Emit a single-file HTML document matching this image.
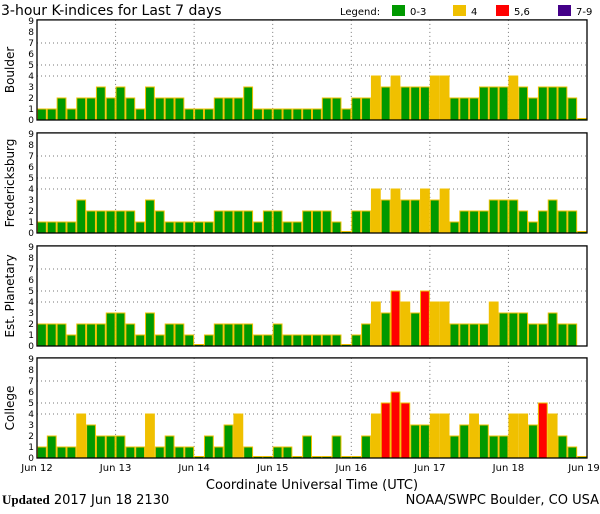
<!DOCTYPE html>
<html><head><meta charset="utf-8"><style>
body{margin:0;background:#fff;width:600px;height:510px;overflow:hidden;font-family:"DejaVu Sans Mono","Liberation Mono",monospace}
svg text{font-family:"DejaVu Sans","Liberation Sans",sans-serif}
</style></head><body>
<svg id="chart" width="600" height="510" xmlns="http://www.w3.org/2000/svg">
<text x="1" y="15" font-size="14">3-hour K-indices for Last 7 days</text>
<g font-size="10">
<text x="340" y="15">Legend:</text>
<rect x="392" y="5" width="13" height="11" fill="#009900"/><text x="410" y="15">0-3</text>
<rect x="453" y="5" width="13" height="11" fill="#f0c000"/><text x="471" y="15">4</text>
<rect x="496" y="5" width="13" height="11" fill="#ff0000"/><text x="514" y="15">5,6</text>
<rect x="558" y="5" width="13" height="11" fill="#440088"/><text x="576" y="15">7-9</text>
</g>
<g id="panels"></g>
<text x="312" y="489" font-size="13" text-anchor="middle">Coordinate Universal Time (UTC)</text>
<text x="2" y="504" font-size="13"><tspan font-weight="bold" font-family="Liberation Serif, serif">Updated</tspan> 2017 Jun 18 2130</text>
<text x="599" y="504" font-size="13" text-anchor="end">NOAA/SWPC Boulder, CO USA</text>
</svg>
<script>
const stations = ["Boulder","Fredericksburg","Est. Planetary","College"];
const boulderK = [1,1,2,1,2,2,3,2, 3,2,1,3,2,2,2,1, 1,1,2,2,2,3,1,1, 1,1,1,1,1,2,2,1, 2,2,4,3,4,3,3,3, 4,4,2,2,2,3,3,3, 4,3,2,3,3,3,2,0];
const fredK = [1,1,1,1,3,2,2,2, 2,2,1,3,2,1,1,1, 1,1,2,2,2,2,1,2, 2,1,1,2,2,2,1,0, 2,2,4,3,4,3,3,4, 3,4,1,2,2,2,3,3, 3,2,1,2,3,2,2,0];
const planK = [2,2,2,1,2,2,2,3, 3,2,1,3,1,2,2,1, 0,1,2,2,2,2,1,1, 2,1,1,1,1,1,1,0, 1,2,4,3,5,4,3,5, 4,4,2,2,2,2,4,3, 3,3,2,2,3,2,2,null];
const collegeK = [1,2,1,1,4,3,2,2, 2,1,1,4,1,2,1,1, 0,2,1,3,4,1,0,0, 1,1,0,2,0,0,2,0, 0,2,4,5,6,5,3,3, 4,4,2,3,4,3,2,2, 4,4,3,5,4,2,1,0];
const seriesList = [boulderK, fredK, planK, collegeK];
const dayLabels = ["Jun 12","Jun 13","Jun 14","Jun 15","Jun 16","Jun 17","Jun 18","Jun 19"];
const yTicks = [0,1,2,3,4,5,6,7,8,9];

const NS="http://www.w3.org/2000/svg";
const X0=37, X1=587, nBars=56;
const bw=(X1-X0)/nBars;
const baselines=[120,233,346,458];
const unit=11;
const xScale=i=>X0+i*bw;
function yScale(base,v){return base-v*unit;}
function color(v){return v>=7?"#440088":v>=5?"#ff0000":v>=4?"#f0c000":"#009900";}
const g=document.getElementById("panels");
function mk(tag,attrs){const e=document.createElementNS(NS,tag);for(const k in attrs)e.setAttribute(k,attrs[k]);return e;}
stations.forEach((name,p)=>{
  const base=baselines[p], top=base-9.1*unit;
  const pg=mk("g",{});
  
  
  g.appendChild(pg);
  [4,5,7].forEach(l=>{const ln=mk("line",{x1:X0,x2:X1,y1:yScale(base,l),y2:yScale(base,l),stroke:"#777","stroke-dasharray":"1,3"});
    pg.appendChild(ln);});
  for(let d=1;d<7;d++){const x=xScale(d*8);const ln=mk("line",{x1:x,x2:x,y1:top,y2:base,stroke:"#777","stroke-dasharray":"1,3"});
    pg.appendChild(ln);}
  seriesList[p].forEach((v,i)=>{
    if(v===null) return;
    const h=v===0?1.5:v*unit;
    const r=mk("rect",{x:xScale(i)+0.5,y:base-h,width:bw-1,height:h,fill:v===0?"#009900":color(v),stroke:"#f0c000","stroke-width":1});
    
    
    pg.appendChild(r);
  });
  const fr=mk("rect",{x:X0,y:top,width:X1-X0,height:base-top,fill:"none",stroke:"#000","stroke-width":1.3});
  pg.appendChild(fr);
  yTicks.forEach(t=>{const tx=mk("text",{x:34,y:yScale(base,t)+3,"font-size":9,"text-anchor":"end"});tx.textContent=t;
    pg.appendChild(tx);});
  const cy=(top+base)/2;
  const lb=mk("text",{x:14,y:cy,"font-size":12,"text-anchor":"middle",transform:`rotate(-90 14 ${cy})`});
  lb.textContent=name;pg.appendChild(lb);
});
dayLabels.forEach((d,i)=>{const tx=mk("text",{x:Math.min(xScale(i*8),584),y:471,"font-size":10,"text-anchor":"middle"});tx.textContent=d;
  g.appendChild(tx);});
</script>
</body></html>
